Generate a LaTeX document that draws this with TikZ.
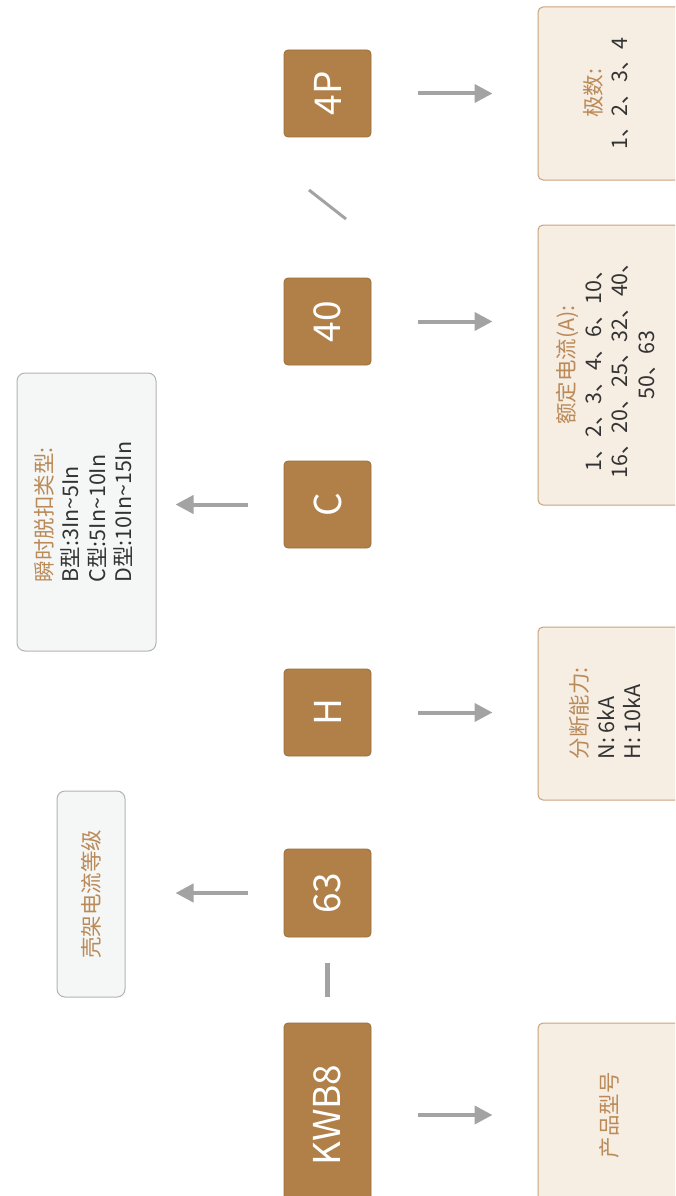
\documentclass[tikz,border=0pt]{standalone}
\usepackage{fontspec}
\setmainfont{Noto Sans CJK SC}
\usetikzlibrary{arrows.meta,calc}
\definecolor{codebrown}{HTML}{B08048}
\definecolor{codeedge}{HTML}{9C6D3A}
\definecolor{labbrown}{HTML}{BA8A58}
\definecolor{beige}{HTML}{F6EDE3}
\definecolor{beigeedge}{HTML}{C9A37C}
\definecolor{paleg}{HTML}{F5F7F6}
\definecolor{palegedge}{HTML}{B3B3B3}
\definecolor{arrgray}{HTML}{A3A3A3}
\definecolor{txtdark}{HTML}{333333}
\begin{document}
\begin{tikzpicture}[x=1pt,y=-1pt,
  codebox/.style={draw=codeedge, fill=codebrown, rounded corners=4pt, line width=0.8pt,
    minimum width=87pt, text=white, inner sep=0pt,
    font=\fontsize{37}{42}\selectfont},
  descbox/.style={draw=beigeedge, fill=beige, rounded corners=5pt, line width=1pt,
    minimum width=142pt, inner sep=0pt,
    font=\fontsize{21.5}{26.5}\selectfont},
  notebox/.style={draw=palegedge, fill=paleg, rounded corners=8pt, line width=1pt,
    inner sep=0pt, font=\fontsize{21.5}{26.5}\selectfont},
  arr/.style={draw=arrgray, line width=4pt, -{Triangle[length=18pt,width=18pt]}},
  sep/.style={draw=arrgray, line width=4.5pt}]
\useasboundingbox (0,0) rectangle (675,1196);
\clip (0,0) rectangle (675,1196);

% code boxes
\node[codebox, minimum height=87pt] (b4p) at (327.5,93.5) {\rotatebox{90}{4P}};
\node[codebox, minimum height=87pt] (b40) at (327.5,321.5) {\rotatebox{90}{40}};
\node[codebox, minimum height=87pt] (bc) at (327.5,504.5) {\rotatebox{90}{C}};
\node[codebox, minimum height=87pt] (bh) at (327.5,712.5) {\rotatebox{90}{H}};
\node[codebox, minimum height=88pt] (b63) at (327.5,893) {\rotatebox{90}{63}};
\node[codebox, minimum height=184pt] (bkwb) at (327.5,1115) {\rotatebox{90}{KWB8}};

% description boxes (right)
\node[descbox, minimum height=173pt] (d1) at (609,93.5)
  {\rotatebox{90}{\begin{tabular}{@{}c@{}}\color{labbrown}极数:\\\color{txtdark}1、2、3、4\end{tabular}}};
\node[descbox, minimum height=280pt] (d2) at (609,365)
  {\rotatebox{90}{\begin{tabular}{@{}c@{}}\color{labbrown}额定电流(A):\\\color{txtdark}1、2、3、4、6、10、\\\color{txtdark}16、20、25、32、40、\\\color{txtdark}50、63\end{tabular}}};
\node[descbox, minimum height=173pt] (d3) at (609,713.5)
  {\rotatebox{90}{\begin{tabular}{@{}l@{}}\color{labbrown}分断能力:\\\color{txtdark}N: 6kA\\\color{txtdark}H: 10kA\end{tabular}}};
\node[descbox, minimum height=184pt] (d4) at (609,1115)
  {\rotatebox{90}{\color{labbrown}产品型号}};

% note boxes (left)
\node[notebox, minimum width=139pt, minimum height=278pt] (n1) at (86.5,512)
  {\rotatebox{90}{\begin{tabular}{@{}l@{}}\color{labbrown}瞬时脱扣类型:\\\color{txtdark}B型:3In\textasciitilde5In\\\color{txtdark}C型:5In\textasciitilde10In\\\color{txtdark}D型:10In\textasciitilde15In\end{tabular}}};
\node[notebox, minimum width=68pt, minimum height=206pt] (n2) at (91,894)
  {\rotatebox{90}{\color{labbrown}壳架电流等级}};

% arrows to the right
\draw[arr] ([xshift=47pt]b4p.east) -- ($(b4p.east -| d1.west)+(-45,0)$);
\draw[arr] ([xshift=47pt]b40.east) -- ($(b40.east -| d2.west)+(-45,0)$);
\draw[arr] ([xshift=47pt]bh.east) -- ($(bh.east -| d3.west)+(-45,0)$);
\draw[arr] ([xshift=47pt]bkwb.east) -- ($(bkwb.east -| d4.west)+(-45,0)$);
% arrows to the left
\draw[arr] ([xshift=-36pt]bc.west) -- ($(bc.west -| n1.east)+(19,0)$);
\draw[arr] ([xshift=-36pt]b63.west) -- ($(b63.west -| n2.east)+(50,0)$);

% separators
\coordinate (s1a) at ($(b63.south)+(0,26)$);
\coordinate (s1b) at ($(bkwb.north)+(0,-26)$);
\draw[sep] (s1a) -- (s1b);
\coordinate (s2a) at (309,190);
\coordinate (s2b) at (346,219);
\draw[draw=arrgray, line width=3pt] (s2a) -- (s2b);
\end{tikzpicture}
\end{document}
